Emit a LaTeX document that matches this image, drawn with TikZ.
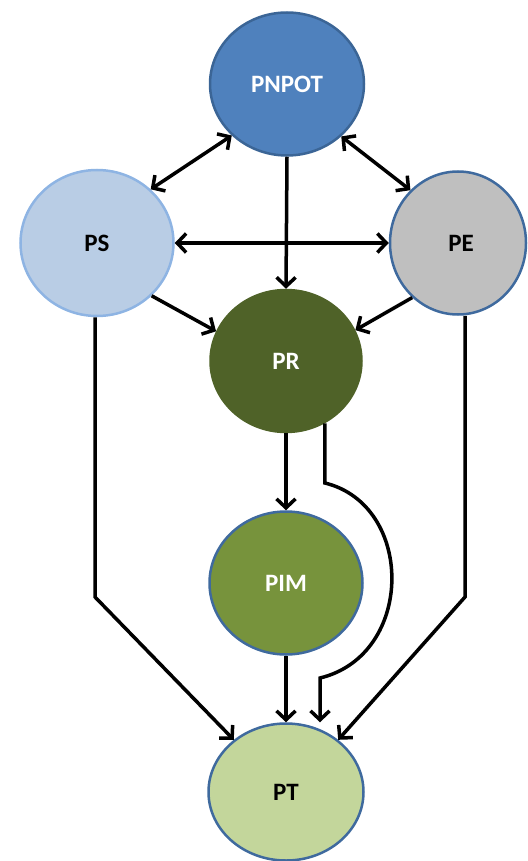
\documentclass[tikz,border=0pt]{standalone}
\usepackage{fontspec}
\setmainfont{Carlito}
\usetikzlibrary{shapes.geometric,arrows.meta}
\definecolor{cPNPOT}{HTML}{4F81BD}
\definecolor{bPNPOT}{HTML}{3B6596}
\definecolor{cPS}{HTML}{B9CDE5}
\definecolor{bPS}{HTML}{8EB4E3}
\definecolor{cPE}{HTML}{BFBFBF}
\definecolor{bBlue}{HTML}{3F6A9E}
\definecolor{cPR}{HTML}{4F6228}
\definecolor{cPIM}{HTML}{77933C}
\definecolor{cPT}{HTML}{C3D69B}
\tikzset{
  bubble/.style={ellipse, line width=2.5pt, inner sep=0pt, font=\fontsize{25}{28}\selectfont\bfseries},
  whitetxt/.style={text=white},
  blacktxt/.style={text=black},
  conn/.style={line width=3.5pt, -{Straight Barb[length=9pt,width=19pt,line width=3.5pt]}},
  biconn/.style={line width=3.5pt, {Straight Barb[length=9pt,width=19pt,line width=3.5pt]}-{Straight Barb[length=9pt,width=19pt,line width=3.5pt]}}
}
\begin{document}
\begin{tikzpicture}[x=1pt,y=-1pt]
\useasboundingbox (0,0) rectangle (527,861);
\node[bubble, whitetxt, fill=cPNPOT, draw=bPNPOT, minimum width=154pt, minimum height=143pt] (PNPOT) at (287,84) {\raisebox{-3pt}{PNPOT}};
\node[bubble, blacktxt, fill=cPS, draw=bPS, minimum width=153pt, minimum height=146pt] (PS) at (97,243) {\raisebox{-3pt}{PS}};
\node[bubble, blacktxt, fill=cPE, draw=bBlue, minimum width=136pt, minimum height=143pt] (PE) at (458,243) {\raisebox{-3pt}{\hspace*{6pt}PE}};
\node[bubble, whitetxt, fill=cPR, draw=cPR, minimum width=151pt, minimum height=142pt] (PR) at (286,361) {\raisebox{-3pt}{PR}};
\node[bubble, whitetxt, fill=cPIM, draw=bBlue, minimum width=153pt, minimum height=143pt] (PIM) at (286,583) {\raisebox{-3pt}{PIM}};
\node[bubble, blacktxt, fill=cPT, draw=bBlue, minimum width=155pt, minimum height=137pt] (PT) at (286,792) {\raisebox{-3pt}{PT}};

\coordinate (psbend) at (95,597);
\coordinate (pebend) at (465,597);
\coordinate (c1) at (325,483);
\coordinate (c2) at (320,678);

\draw[biconn] (PS.45) -- (PNPOT.223);
\draw[biconn] (PNPOT.316) -- (PE.132);
\draw[biconn] (PS.east) -- (PE.west);
\draw[conn] (PNPOT.south) -- (PR.north);
\draw[conn] (PS.316) -- (PR.157);
\draw[conn] (PE.230) -- (PR.24);
\draw[conn] (PR.south) -- (PIM.north);
\draw[conn] (PIM.south) -- (PT.north);
\draw[conn] (PR.302) -- (PR.302 |- c1) .. controls (415,505) and (415,655) .. (c2) -- (c2 |- PT.north);
\draw[conn] (PS.south -| psbend) -- (psbend) -- (PT.135);
\draw[conn] (PE.south -| pebend) -- (pebend) -- (PT.45);
\end{tikzpicture}
\end{document}
